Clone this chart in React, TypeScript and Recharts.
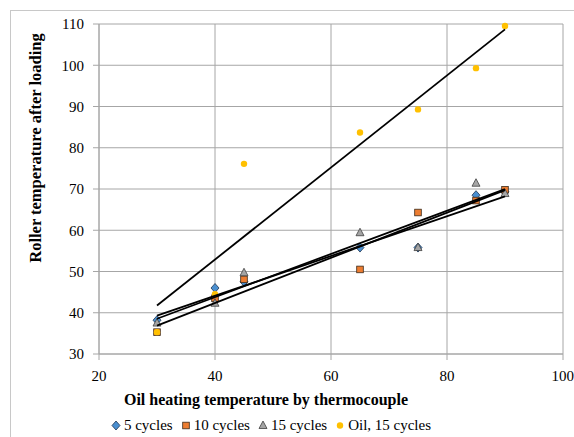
import React from 'react';
import {
  ScatterChart, Scatter, XAxis, YAxis, CartesianGrid,
} from 'recharts';

// oil heating temperature (thermocouple), same for every series
const temps = [30, 40, 45, 65, 75, 85, 90];
const cycles5 = [38.2, 46.0, 47.5, 55.8, 55.8, 68.5, 69.3];
const cycles10 = [35.3, 43.5, 48.1, 50.5, 64.3, 67.2, 69.8];
const cycles15 = [37.5, 42.3, 49.7, 59.4, 55.8, 71.4, 68.9];
const oil15 = [35.3, 44.5, 76.1, 83.7, 89.3, 99.3, 109.5];

const xTicks = [20, 40, 60, 80, 100];
const yTicks = [30, 40, 50, 60, 70, 80, 90, 100, 110];

const FONT = 'Liberation Serif, Tinos, Times New Roman, Noto Serif, DejaVu Serif, serif';
const GRID = '#a6a6a6';

const toPoints = (ys: number[]) => temps.map((x, i) => ({ x, y: ys[i] }));

// least squares fit, drawn over the span of the data
const trend = (ys: number[]) => {
  const n = temps.length;
  const mx = temps.reduce((a, b) => a + b, 0) / n;
  const my = ys.reduce((a, b) => a + b, 0) / n;
  let sxy = 0, sxx = 0;
  temps.forEach((x, i) => { sxy += (x - mx) * (ys[i] - my); sxx += (x - mx) ** 2; });
  const b = sxy / sxx;
  const a = my - b * mx;
  const lo = Math.min(...temps), hi = Math.max(...temps);
  return [{ x: lo, y: a + b * lo }, { x: hi, y: a + b * hi }];
};

const Diamond = ({ cx, cy, fill }: any) => (
  <path d={`M${cx},${cy - 4.5}L${cx + 4},${cy}L${cx},${cy + 4.5}L${cx - 4},${cy}Z`} fill={fill} stroke="#1f3550" strokeWidth={0.8} />
);
const Square = ({ cx, cy, fill }: any) => (
  <rect x={cx - 3.3} y={cy - 3.3} width={6.6} height={6.6} fill={fill} stroke="#3a2a1a" strokeWidth={0.8} />
);
const Triangle = ({ cx, cy, fill }: any) => (
  <path d={`M${cx},${cy - 4.5}L${cx + 4},${cy + 3}L${cx - 4},${cy + 3}Z`} fill={fill} stroke="#404040" strokeWidth={0.8} />
);
const Dot = ({ cx, cy, fill }: any) => <circle cx={cx} cy={cy} r={3.2} fill={fill} />;
const Nothing = () => <g />;

const series = [
  { name: '5 cycles', ys: cycles5, color: '#4a8fd0', shape: Diamond },
  { name: '10 cycles', ys: cycles10, color: '#ed7d31', shape: Square },
  { name: '15 cycles', ys: cycles15, color: '#a5a5a5', shape: Triangle },
  { name: 'Oil, 15 cycles', ys: oil15, color: '#ffc000', shape: Dot },
];

export default function App() {
  return (
    <div style={{ position: 'absolute', left: 0, top: 0, width: 574, height: 437, background: '#fff', overflow: 'hidden', fontFamily: FONT }}>
      <div style={{ position: 'absolute', left: 10, top: 10, right: -4, bottom: -4, borderLeft: '1.5px solid #c8c8c8', borderTop: '1.5px solid #c8c8c8' }} />
      <ScatterChart width={574} height={437} margin={{ top: 24, right: 11, bottom: 53, left: 0 }}>
        <CartesianGrid stroke={GRID} strokeWidth={1} />
        <XAxis
          type="number" dataKey="x" domain={[20, 100]} ticks={xTicks}
          axisLine={{ stroke: GRID }} tickLine={{ stroke: GRID }} tickSize={6} tickMargin={10}
          tick={{ fill: '#000', fontSize: 15, style: { fontFamily: FONT } }} height={30}
          label={{
            content: () => (
              <text x={266} y={405} textAnchor="middle" style={{ fontFamily: FONT }} fontSize={16} fontWeight="bold" fill="#000">
                Oil heating temperature by thermocouple
              </text>
            ),
          }}
        />
        <YAxis
          type="number" dataKey="y" domain={[30, 110]} ticks={yTicks} width={99}
          axisLine={{ stroke: GRID }} tickLine={{ stroke: GRID }} tickSize={6} tickMargin={9}
          tick={{ fill: '#000', fontSize: 15, style: { fontFamily: FONT } }}
          label={{
            content: () => (
              <text x={0} y={0} transform="translate(41 148) rotate(-90)" textAnchor="middle" style={{ fontFamily: FONT }} fontSize={16.5} fontWeight="bold" fill="#000">
                Roller temperature after loading
              </text>
            ),
          }}
        />
        {series.map((s) => (
          <Scatter key={s.name} name={s.name} data={toPoints(s.ys)} fill={s.color} shape={s.shape} isAnimationActive={false} />
        ))}
        {series.map((s) => (
          <Scatter
            key={`trend-${s.name}`} data={trend(s.ys)} line={{ stroke: '#000', strokeWidth: 1.8 }}
            shape={Nothing} legendType="none" isAnimationActive={false}
          />
        ))}
      </ScatterChart>
      <div style={{ position: 'absolute', left: 0, width: 550, top: 415, display: 'flex', justifyContent: 'center', fontSize: 15, lineHeight: '20px', color: '#000' }}>
        {series.map((s) => {
          const Icon = s.shape;
          return (
            <span key={s.name} style={{ display: 'inline-flex', alignItems: 'center', marginRight: 8 }}>
              <svg width={10} height={10} style={{ marginRight: 3 }}>
                <Icon cx={5} cy={5.5} fill={s.color} />
              </svg>
              {s.name}
            </span>
          );
        })}
      </div>
    </div>
  );
}
